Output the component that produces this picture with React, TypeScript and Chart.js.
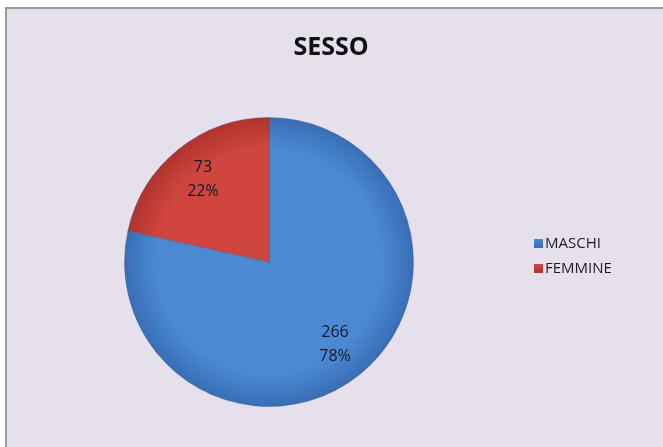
import React, { useEffect, useRef } from "react";
import { Chart, registerables } from "chart.js";

Chart.register(...registerables);

const TITLE = "SESSO";
const CATEGORIES = ["MASCHI", "FEMMINE"];
const VALUES = [266, 73];
const PERCENTS = ["78%", "22%"];
const INNER_COLORS = ["#4C89D3", "#D0463F"];
const OUTER_COLORS = ["#386DB5", "#B0332E"];

const FONT = "'Open Sans', 'Liberation Sans', sans-serif";

const overlayPlugin = {
  id: "overlay",
  afterDraw(chart: any) {
    const ctx = chart.ctx;
    ctx.save();
    // title
    ctx.fillStyle = "#111111";
    ctx.font = `bold 25px ${FONT}`;
    ctx.textAlign = "center";
    ctx.textBaseline = "middle";
    ctx.fillText(TITLE, 331, 48);

    // data labels
    const meta = chart.getDatasetMeta(0);
    ctx.font = `16px ${FONT}`;
    ctx.fillStyle = "#141a2c";
    meta.data.forEach((arc: any, i: number) => {
      const p = arc.getProps(["x", "y", "startAngle", "endAngle", "outerRadius"], true);
      const mid = (p.startAngle + p.endAngle) / 2;
      const r = p.outerRadius * 0.73;
      const cx = p.x + Math.cos(mid) * r;
      const cy = p.y + Math.sin(mid) * r;
      ctx.fillText(String(VALUES[i]), cx, cy - 12);
      ctx.fillText(PERCENTS[i], cx, cy + 12);
    });

    // legend
    ctx.textAlign = "left";
    ctx.font = `15px ${FONT}`;
    CATEGORIES.forEach((label, i) => {
      const y = 243 + i * 25;
      const g = ctx.createLinearGradient(0, y - 4, 0, y + 5);
      g.addColorStop(0, INNER_COLORS[i]);
      g.addColorStop(1, OUTER_COLORS[i]);
      ctx.fillStyle = g;
      ctx.fillRect(534, y - 4, 9, 9);
      ctx.fillStyle = "#1e1e1e";
      ctx.fillText(label, 545, y + 1);
    });
    ctx.restore();
  },
};

export default function App() {
  const ref = useRef<HTMLCanvasElement>(null);
  useEffect(() => {
    if (!ref.current) return;
    const chart = new Chart(ref.current, {
      type: "pie",
      data: {
        labels: CATEGORIES,
        datasets: [
          {
            data: VALUES,
            backgroundColor: (c: any) => {
              const area = c.chart.chartArea;
              if (!area) return INNER_COLORS[c.dataIndex];
              const cx = (area.left + area.right) / 2;
              const cy = (area.top + area.bottom) / 2;
              const r = Math.min(area.right - area.left, area.bottom - area.top) / 2;
              const g = c.chart.ctx.createRadialGradient(cx, cy, 0, cx, cy, r);
              g.addColorStop(0, INNER_COLORS[c.dataIndex]);
              g.addColorStop(0.78, INNER_COLORS[c.dataIndex]);
              g.addColorStop(1, OUTER_COLORS[c.dataIndex]);
              return g;
            },
            borderColor: "rgba(60,80,120,0.35)",
            borderWidth: 1,
          },
        ],
      },
      options: {
        animation: false,
        responsive: false,
        maintainAspectRatio: false,
        layout: { padding: { left: 124, right: 249, top: 117, bottom: 40 } },
        plugins: {
          legend: { display: false },
          title: { display: false },
          tooltip: { enabled: false },
        },
      },
      plugins: [overlayPlugin],
    });
    return () => chart.destroy();
  }, []);

  return (
    <div
      style={{
        position: "fixed",
        left: 0,
        top: 0,
        width: 663,
        height: 447,
        background: "#ffffff",
        overflow: "hidden",
      }}
    >
      <div
        style={{
          position: "absolute",
          left: 5,
          top: 7,
          width: 700,
          height: 480,
          background: "#E5E0EC",
          borderLeft: "2px solid #9a9a9f",
          borderTop: "2px solid #9a9a9f",
        }}
      />
      <canvas
        ref={ref}
        width={663}
        height={447}
        style={{ position: "absolute", left: 0, top: 0, width: 663, height: 447 }}
      />
    </div>
  );
}
